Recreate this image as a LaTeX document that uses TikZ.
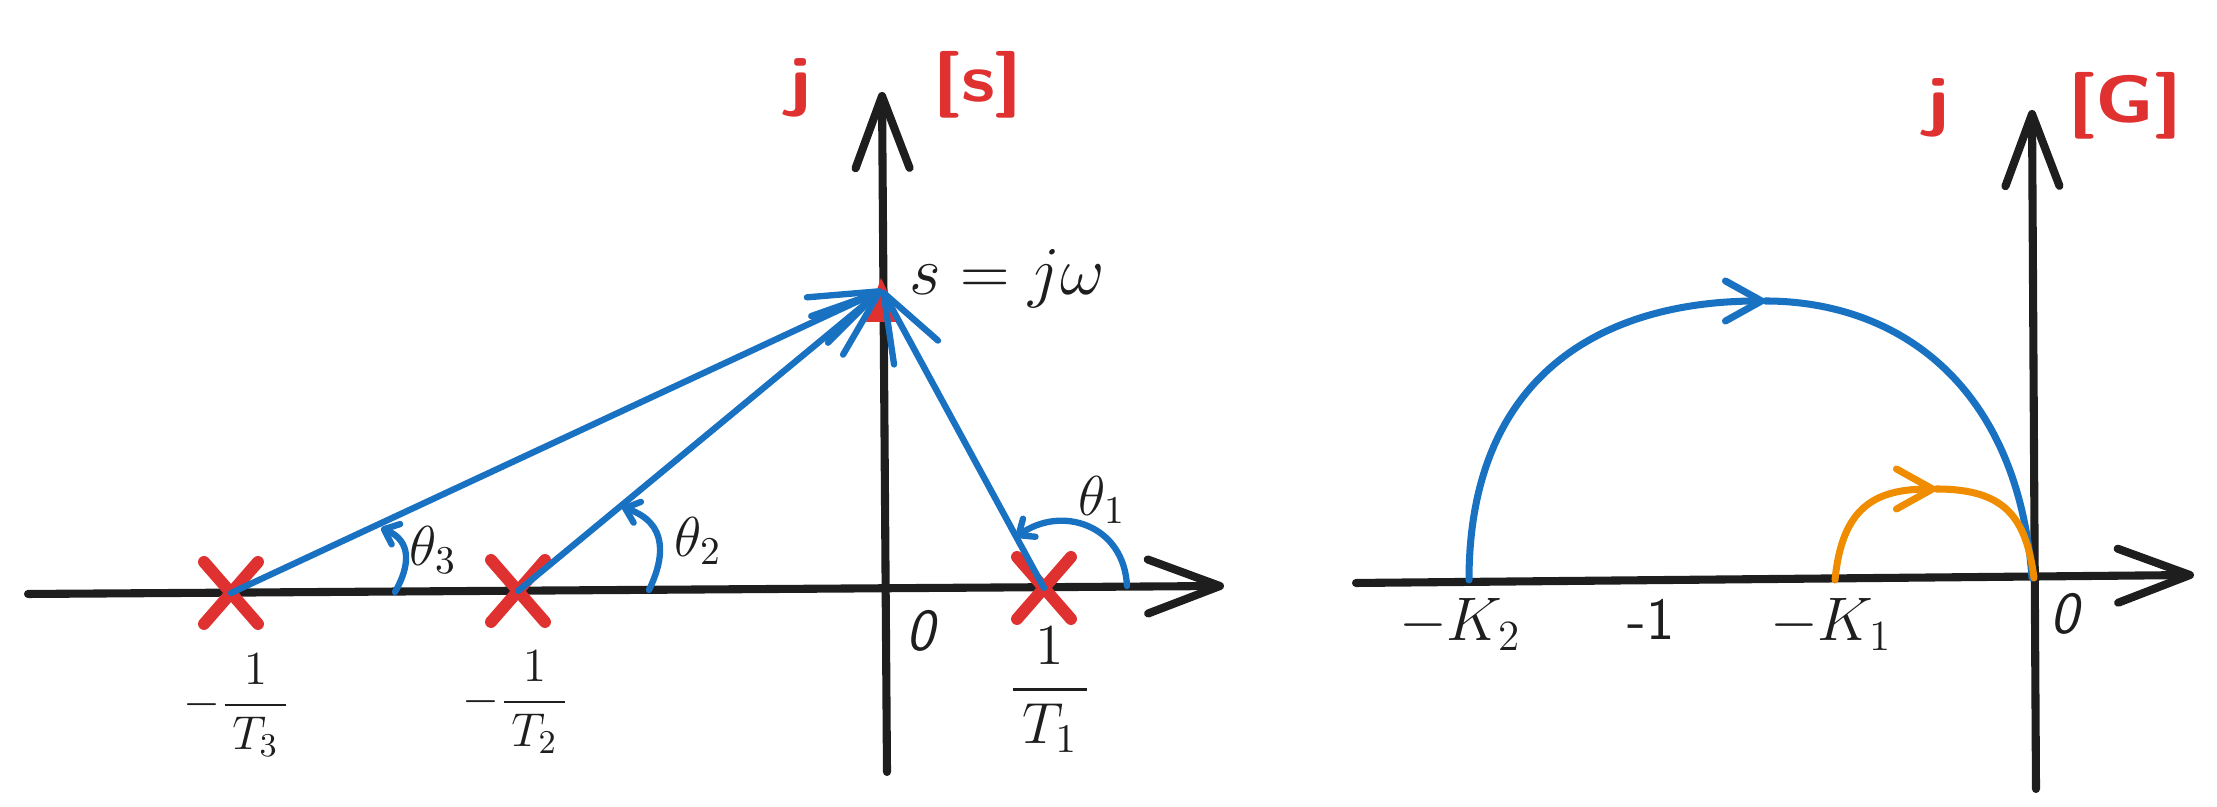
\RequirePackage{fix-cm}
\documentclass[tikz,border=0pt]{standalone}
\usepackage{amsmath}
\usetikzlibrary{arrows.meta,shapes.misc}
\definecolor{ink}{HTML}{1E1E1E}
\definecolor{exblue}{HTML}{1971C2}
\definecolor{exred}{HTML}{E03131}
\definecolor{exorange}{HTML}{F08C00}
\begin{document}
\begin{tikzpicture}[x=0.01cm,y=0.01cm,
  axis/.style={draw=ink, line width=2.3pt, line cap=round, line join=round,
    -{Straight Barb[length=0.72cm,width=0.54cm,round]}},
  vec/.style={draw=exblue, line width=1.8pt, line cap=round,
    -{Straight Barb[length=0.68cm,width=0.5cm,round]}},
  ang/.style={draw=exblue, line width=1.8pt, line cap=round,
    -{Straight Barb[length=0.13cm,width=0.22cm,round]}},
  curveb/.style={draw=exblue, line width=2pt, line cap=round},
  curveo/.style={draw=exorange, line width=2pt, line cap=round},
  curvetip/.style={-{Straight Barb[length=0.36cm,width=0.4cm,round]}},
  xmark/.style={cross out, draw=exred, line width=3.4pt, line cap=round,
    minimum width=0.42cm, minimum height=0.5cm, inner sep=0pt},
  hand/.style={font=\sffamily\bfseries\fontsize{19}{21}\selectfont, text=exred, inner sep=0pt, xscale=1.2},
  handk/.style={font=\sffamily\fontsize{17}{19}\selectfont, text=ink, inner sep=0pt},
  lbl/.style={text=ink, inner sep=0pt}
]
\useasboundingbox (0,0) rectangle (2217,807);

% ---------- left panel: s-plane ----------
\coordinate (LaxL) at (28,213);
\coordinate (LaxR) at (1224,221);
\coordinate (LayB) at (887,35);
\coordinate (LayT) at (882,715);
\draw[axis] (LaxL) -- (LaxR);
\draw[axis] (LayB) -- (LayT);

\node[hand] (jL) at (800,719) {j};
\node[hand] (sL) at (978,722) {[s]};

\coordinate (s) at (882,517);
\fill[exred] (866,485) -- (881,529) -- (902,485) -- cycle;
\node[lbl, anchor=base west, font=\fontsize{19.5}{22}\selectfont] (sjw) at (909,512) {$s = j\omega$};

\node[xmark] (p3) at (231,214) {};
\node[xmark] (p2) at (518,216) {};
\node[xmark] (p1) at (1044,219) {};

\draw[vec] (p3.center) -- (s);
\draw[vec] (p2.center) -- (s);
\draw[vec] (p1.center) -- (s);

\coordinate (a3s) at (395,215);
\coordinate (a3e) at (381,279);
\coordinate (a2s) at (649,217);
\coordinate (a2e) at (622,300);
\coordinate (a1s) at (1127,221);
\coordinate (a1e) at (1016,270);
\draw[ang] (a3s) .. controls (410,241) and (412,266) .. (a3e);
\draw[ang] (a2s) .. controls (665,250) and (668,284) .. (a2e);
\draw[ang] (a1s) .. controls (1124,282) and (1062,302) .. (a1e);

\node[lbl, font=\fontsize{16}{18}\selectfont] (t3) at (433,257) {$\theta_3$};
\node[lbl, font=\fontsize{16}{18}\selectfont] (t2) at (698,266) {$\theta_2$};
\node[lbl, font=\fontsize{16}{18}\selectfont] (t1) at (1102,307) {$\theta_1$};

\node[lbl, font=\fontsize{13.5}{16}\selectfont] (f3) at (237,102) {$-\dfrac{1}{\,T_3\,}$};
\node[lbl, font=\fontsize{13.5}{16}\selectfont] (f2) at (516,105) {$-\dfrac{1}{\,T_2\,}$};
\node[lbl, font=\fontsize{16.5}{19}\selectfont] (f1) at (1050,117) {$\dfrac{1}{\,T_1\,}$};
\node[handk, font=\sffamily\itshape\fontsize{17}{19}\selectfont] (zL) at (921,176) {0};

% ---------- right panel: G-plane ----------
\coordinate (RaxL) at (1356,224);
\coordinate (RaxR) at (2194,232);
\coordinate (RayB) at (2036,18);
\coordinate (RayT) at (2032,697);
\draw[axis] (RaxL) -- (RaxR);
\draw[axis] (RayB) -- (RayT);

\node[hand] (jR) at (1938,699) {j};
\node[hand] (gR) at (2125,701) {[G]};

\coordinate (bA) at (1469,227);
\coordinate (bP) at (1765,506);
\coordinate (bB) at (2032,229);
\draw[curveb, curvetip] (bA) .. controls (1469,430) and (1600,506) .. (bP);
\draw[curveb] (bP) .. controls (1900,506) and (2018,420) .. (bB);

\coordinate (oA) at (1835,227);
\coordinate (oP) at (1936,318);
\coordinate (oB) at (2034,229);
\draw[curveo, curvetip] (oA) .. controls (1842,300) and (1875,318) .. (oP);
\draw[curveo] (oP) .. controls (2005,318) and (2026,290) .. (oB);

\node[lbl, anchor=base, font=\fontsize{17.5}{20}\selectfont] (k2) at (1460,166) {$-K_2$};
\node[handk] (m1) at (1651,188) {-1};
\node[lbl, anchor=base, font=\fontsize{17.5}{20}\selectfont] (k1) at (1831,166) {$-K_1$};
\node[handk, font=\sffamily\itshape\fontsize{17}{19}\selectfont] (zR) at (2065,193) {0};
\end{tikzpicture}
\end{document}
